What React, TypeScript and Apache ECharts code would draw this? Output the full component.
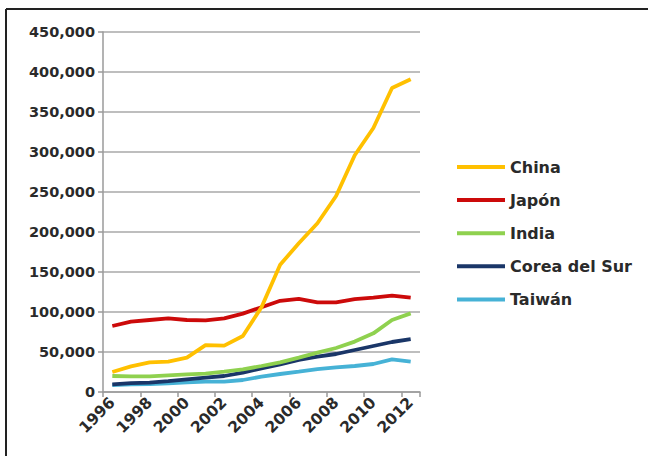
import React, { useEffect, useRef } from "react";
import * as echarts from "echarts";

const years = ["1996","1997","1998","1999","2000","2001","2002","2003","2004","2005","2006","2007","2008","2009","2010","2011","2012"];
const china = [25000, 32000, 37000, 38000, 43000, 58500, 58000, 70000, 106000, 159000, 186000, 211000, 245000, 296000, 330000, 380000, 391000];
const japon = [82500, 88000, 90000, 92000, 90000, 89500, 92000, 98000, 106000, 114000, 116500, 112000, 112000, 116000, 118000, 120500, 118000];
const india = [20000, 19500, 19500, 20800, 22000, 23000, 25400, 28300, 32500, 37000, 43000, 49200, 55000, 63000, 73300, 90000, 98300];
const corea = [9600, 11000, 11700, 13700, 15800, 17900, 20000, 24200, 29600, 34600, 40000, 44200, 47500, 52500, 57500, 62500, 66000];
const taiwan = [8700, 9600, 10000, 10800, 12100, 12900, 13000, 15000, 19200, 22500, 25400, 28700, 30800, 32500, 35000, 40800, 38000];

const seriesNames = ["China", "Japón", "India", "Corea del Sur", "Taiwán"];
const seriesColors = ["#FFC000", "#CC0A0A", "#8FD14F", "#1A3668", "#46B2D6"];
const seriesData = [china, japon, india, corea, taiwan];

export default function App() {
  const ref = useRef<HTMLDivElement>(null);
  useEffect(() => {
    if (!ref.current) return;
    const chart = echarts.init(ref.current, null, { renderer: "svg" });
    const font = "DejaVu Sans";
    chart.setOption({
      animation: false,
      backgroundColor: "#ffffff",
      grid: { left: 103, right: 228, top: 32, bottom: 64, outerBoundsMode: "none" },
      legend: {
        orient: "vertical",
        left: 457,
        top: 159,
        padding: 0,
        icon: "rect",
        itemWidth: 48,
        itemHeight: 4,
        itemGap: 17.1,
        textStyle: { fontFamily: font, fontWeight: "bold", fontSize: 16, color: "#2a2a2a" },
        data: seriesNames,
      },
      xAxis: {
        type: "category",
        data: years,
        boundaryGap: true,
        axisLine: { lineStyle: { color: "#9a9a9a", width: 1.5 } },
        axisTick: { show: true, length: 5, lineStyle: { color: "#9a9a9a", width: 1.5 } },
        axisLabel: {
          interval: 1,
          rotate: 45,
          margin: 8,
          fontFamily: font,
          fontWeight: "bold",
          fontSize: 15.5,
          color: "#2a2a2a",
        },
      },
      yAxis: {
        type: "value",
        min: 0,
        max: 450000,
        interval: 50000,
        axisLine: { show: true, lineStyle: { color: "#9a9a9a", width: 1.5 } },
        axisTick: { show: true, length: 5, lineStyle: { color: "#9a9a9a", width: 1.5 } },
        splitLine: { show: true, lineStyle: { color: "#a8a8a8", width: 1.5 } },
        axisLabel: {
          margin: 8,
          fontFamily: font,
          fontWeight: "bold",
          fontSize: 14.5,
          color: "#2a2a2a",
          formatter: (v: number) => v.toLocaleString("en-US"),
        },
      },
      series: seriesNames.map((name, i) => ({
        name,
        type: "line",
        data: seriesData[i],
        symbol: "none",
        smooth: false,
        color: seriesColors[i],
        lineStyle: { width: 3.8, color: seriesColors[i] },
        z: 10 - i,
      })),
      graphic: [
        { type: "line", shape: { x1: 6, y1: 9, x2: 648, y2: 9 }, style: { stroke: "#222", lineWidth: 2 } },
        { type: "line", shape: { x1: 6, y1: 9, x2: 6, y2: 456 }, style: { stroke: "#222", lineWidth: 2 } },
      ],
    });
    return () => chart.dispose();
  }, []);
  return <div ref={ref} style={{ position: "absolute", left: 0, top: 0, width: 648, height: 456 }} />;
}
